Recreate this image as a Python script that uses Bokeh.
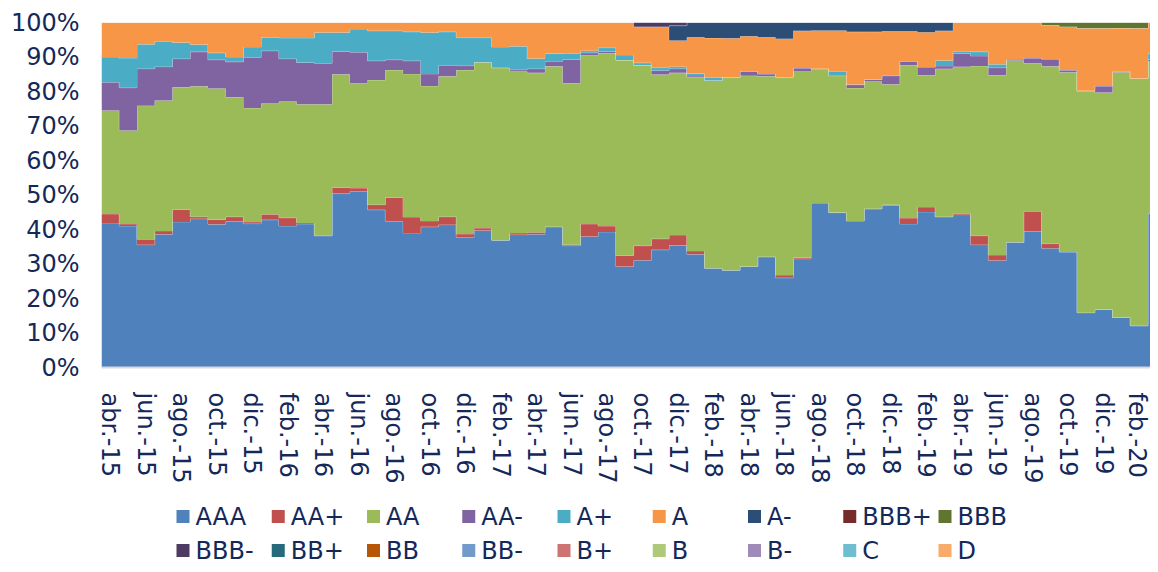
import numpy as np
from bokeh.plotting import figure
from bokeh.layouts import column
from bokeh.models import FixedTicker, PrintfTickFormatter, Range1d, ColumnDataSource
from bokeh.core.properties import value
from bokeh.embed import file_html
from bokeh.resources import INLINE

months = ["abr.-15", "may.-15", "jun.-15", "jul.-15", "ago.-15", "sep.-15", "oct.-15", "nov.-15", "dic.-15",
          "ene.-16", "feb.-16", "mar.-16", "abr.-16", "may.-16", "jun.-16", "jul.-16", "ago.-16", "sep.-16",
          "oct.-16", "nov.-16", "dic.-16", "ene.-17", "feb.-17", "mar.-17", "abr.-17", "may.-17", "jun.-17",
          "jul.-17", "ago.-17", "sep.-17", "oct.-17", "nov.-17", "dic.-17", "ene.-18", "feb.-18", "mar.-18",
          "abr.-18", "may.-18", "jun.-18", "jul.-18", "ago.-18", "sep.-18", "oct.-18", "nov.-18", "dic.-18",
          "ene.-19", "feb.-19", "mar.-19", "abr.-19", "may.-19", "jun.-19", "jul.-19", "ago.-19", "sep.-19",
          "oct.-19", "nov.-19", "dic.-19", "ene.-20", "feb.-20", "mar.-20"]

AAA = [41.9, 41.0, 35.6, 38.6, 42.2, 43.1, 41.5, 42.4, 41.7, 42.8, 41.0, 41.6, 38.2, 50.4, 51.0,
       45.7, 42.4, 39.0, 40.8, 41.4, 37.7, 39.7, 36.9, 38.5, 38.6, 40.8, 35.3, 38.0, 39.3, 29.3,
       31.1, 34.1, 35.4, 32.8, 28.8, 28.2, 29.3, 32.1, 26.0, 31.5, 47.7, 44.9, 42.5, 46.0, 47.0,
       41.6, 45.1, 43.7, 44.3, 35.6, 31.0, 36.3, 39.5, 34.6, 33.5, 15.9, 16.8, 14.5, 12.1, 44.6]
AA_plus = [2.6, 0.6, 1.6, 1.0, 3.6, 0.6, 1.4, 1.3, 0.5, 1.6, 2.4, 0.3, 0.0, 1.8, 1.0,
           1.5, 6.9, 4.6, 1.7, 2.3, 1.0, 0.7, 0.0, 0.5, 0.6, 0.0, 0.3, 3.6, 1.7, 3.2,
           4.2, 3.2, 3.0, 1.0, 0.0, 0.0, 0.0, 0.0, 0.8, 0.4, 0.0, 0.0, 0.0, 0.0, 0.2,
           1.7, 1.4, 0.0, 0.4, 2.6, 1.6, 0.0, 5.8, 1.3, 0.0, 0.0, 0.0, 0.0, 0.0, 0.0]
AA = [30.0, 27.1, 38.7, 37.8, 35.4, 37.8, 38.0, 34.6, 33.0, 32.1, 33.7, 34.4, 38.1, 32.8, 30.5,
      36.1, 36.9, 41.5, 39.1, 40.7, 47.5, 48.1, 50.0, 46.8, 46.2, 46.5, 46.8, 49.0, 50.1, 56.6,
      52.3, 47.6, 47.0, 50.4, 54.4, 56.0, 55.3, 52.3, 57.4, 53.9, 38.9, 39.7, 38.5, 36.9, 34.9,
      44.3, 38.2, 42.9, 42.5, 49.2, 52.1, 52.7, 42.9, 51.4, 52.1, 64.3, 62.9, 71.1, 71.7, 44.1]
AA_minus = [8.2, 12.4, 10.7, 9.8, 8.3, 10.0, 8.3, 10.3, 14.7, 15.3, 12.4, 12.1, 11.9, 6.6, 8.9,
            5.6, 3.0, 3.8, 3.5, 3.2, 1.3, 0.0, 0.0, 0.5, 1.2, 1.5, 6.9, 0.6, 0.5, 0.0,
            0.0, 1.2, 1.2, 0.3, 0.0, 0.0, 1.3, 0.7, 0.0, 1.0, 0.0, 0.0, 1.0, 0.6, 2.5,
            1.2, 2.4, 0.8, 3.8, 2.9, 2.2, 0.4, 1.5, 2.1, 0.6, 0.0, 1.9, 0.3, 0.0, 0.6]
A_plus = [7.3, 8.6, 7.1, 7.4, 4.7, 2.1, 2.0, 1.4, 3.0, 3.9, 6.0, 7.1, 8.9, 5.5, 6.7,
          8.7, 8.4, 8.4, 12.0, 9.7, 8.1, 7.1, 6.0, 6.8, 3.0, 2.2, 1.8, 0.6, 1.1, 1.5,
          0.7, 0.8, 0.6, 0.7, 0.9, 0.0, 0.0, 0.0, 0.0, 0.0, 0.0, 1.3, 0.0, 0.0, 0.0,
          0.0, 0.0, 1.6, 0.7, 1.2, 1.0, 0.0, 0.0, 0.0, 0.0, 0.0, 0.0, 0.0, 0.0, 1.8]
A = [10.0, 10.3, 6.3, 5.4, 5.8, 6.4, 8.8, 10.0, 7.1, 4.3, 4.5, 4.5, 2.9, 2.9, 1.9,
     2.4, 2.4, 2.7, 2.9, 2.7, 4.4, 4.4, 7.1, 6.9, 10.4, 9.0, 8.9, 8.2, 7.3, 9.4,
     10.5, 11.9, 7.6, 10.5, 11.4, 11.2, 10.1, 10.6, 11.1, 10.8, 11.1, 11.8, 15.3, 13.8, 12.9,
     8.7, 10.1, 8.6, 8.3, 8.5, 12.1, 10.6, 10.3, 9.8, 12.6, 18.1, 16.7, 12.5, 14.5, 8.9]
A_minus = [0.0] * 32 + [4.3, 4.3, 4.5, 4.6, 4.0, 4.3, 4.7, 2.4, 2.3, 2.3, 2.7, 2.7, 2.5,
                        2.5, 2.8, 2.4] + [0.0] * 12
BBB_plus = [0.0] * 60
BBB = [0.0] * 53 + [0.8, 1.2, 1.7, 1.7, 1.6, 1.7, 0.0]
BBB_minus = [0.0] * 30 + [1.2, 1.2, 0.9] + [0.0] * 27
BB_plus = [0.0] * 60
BB = [0.0] * 60
BB_minus = [0.0] * 60
B_plus = [0.0] * 60
B = [0.0] * 60
B_minus = [0.0] * 60
C = [0.0] * 60
D = [0.0] * 60

ratings = ["AAA", "AA+", "AA", "AA-", "A+", "A", "A-", "BBB+", "BBB",
           "BBB-", "BB+", "BB", "BB-", "B+", "B", "B-", "C", "D"]
series = [AAA, AA_plus, AA, AA_minus, A_plus, A, A_minus, BBB_plus, BBB,
          BBB_minus, BB_plus, BB, BB_minus, B_plus, B, B_minus, C, D]
colors = ["#4F81BD", "#C0504D", "#9BBB59", "#8064A2", "#4BACC6", "#F79646", "#2C4D75", "#772C2A", "#5F7530",
          "#4D3B62", "#276A7C", "#B65708", "#729ACA", "#CD7371", "#AFC97A", "#A08AB9", "#6FBDD1", "#F9AB6B"]

TEXT = "#14285A"
FONT = "DejaVu Sans"
LEFT = 101
W = 1150
H1 = 490
LH = 74

n = len(months)
p = figure(width=W, height=H1, output_backend="svg", toolbar_location=None,
           x_range=Range1d(-0.5, 58.64), y_range=Range1d(0, 100),
           min_border_left=LEFT, min_border_right=0, min_border_top=22, min_border_bottom=H1 - 367)
p.outline_line_color = None
p.xgrid.visible = False
p.ygrid.visible = False

xs = []
for i in range(n):
    xs += [i - 0.5, i + 0.5]

base = np.zeros(n)
for name, vals, col in zip(ratings, series, colors):
    v = np.array(vals, dtype=float)
    top = base + v
    p.varea(x=xs, y1=np.repeat(base, 2), y2=np.repeat(top, 2), fill_color=col)
    if v.sum() > 0:
        p.line(x=xs, y=np.repeat(top, 2), line_color="white", line_alpha=0.35, line_width=1)
    base = top

p.xaxis.ticker = FixedTicker(ticks=list(range(0, n, 2)))
p.xaxis.major_label_overrides = {i: months[i] for i in range(0, n, 2)}
p.xaxis.major_label_orientation = "vertical"
p.xaxis.axis_line_color = "#D9D9D9"
p.xaxis.axis_line_width = 2
p.xaxis.major_tick_line_color = None
p.xaxis.minor_tick_line_color = None
p.xaxis.major_tick_out = 0
p.xaxis.major_tick_in = 0
p.xaxis.major_label_standoff = 25

p.yaxis.ticker = FixedTicker(ticks=list(range(0, 101, 10)))
p.yaxis.formatter = PrintfTickFormatter(format="%d%%")
p.yaxis.axis_line_color = None
p.yaxis.major_tick_line_color = None
p.yaxis.minor_tick_line_color = None
p.yaxis.major_tick_out = 0
p.yaxis.major_tick_in = 0
p.yaxis.major_label_standoff = 22

for ax in (p.xaxis[0], p.yaxis[0]):
    ax.major_label_text_font = FONT
    ax.major_label_text_font_size = "24px"
    ax.major_label_text_color = TEXT

# legend panel: its frame is aligned with the chart frame (x from LEFT to W), 1 unit = 1 px
pl = figure(width=W, height=LH, output_backend="svg", toolbar_location=None,
            x_range=Range1d(LEFT, W), y_range=Range1d(0, LH),
            min_border_left=LEFT, min_border_right=0, min_border_top=0, min_border_bottom=0)
pl.axis.visible = False
pl.xgrid.visible = False
pl.ygrid.visible = False
pl.outline_line_color = None

ncol = 9
sq = 13
col_x0, col_step = 176, 95.25
row_y = [LH - 26, LH - 60]
sq_x = [col_x0 + col_step * (i % ncol) + sq / 2 for i in range(len(ratings))]
sq_y = [row_y[i // ncol] for i in range(len(ratings))]
txt_x = [x + sq / 2 + 6 for x in sq_x]
lsrc = ColumnDataSource(dict(sx=sq_x, sy=sq_y, tx=txt_x, label=ratings, color=colors))
pl.rect(x="sx", y="sy", width=sq, height=sq, fill_color="color", line_color=None, source=lsrc)
pl.text(x="tx", y="sy", text="label", source=lsrc, text_font=value(FONT), text_font_size=value("24px"),
        text_color=TEXT, text_baseline="middle", text_align="left")

open("out.html", "w").write(file_html(column(p, pl, spacing=0), INLINE))
